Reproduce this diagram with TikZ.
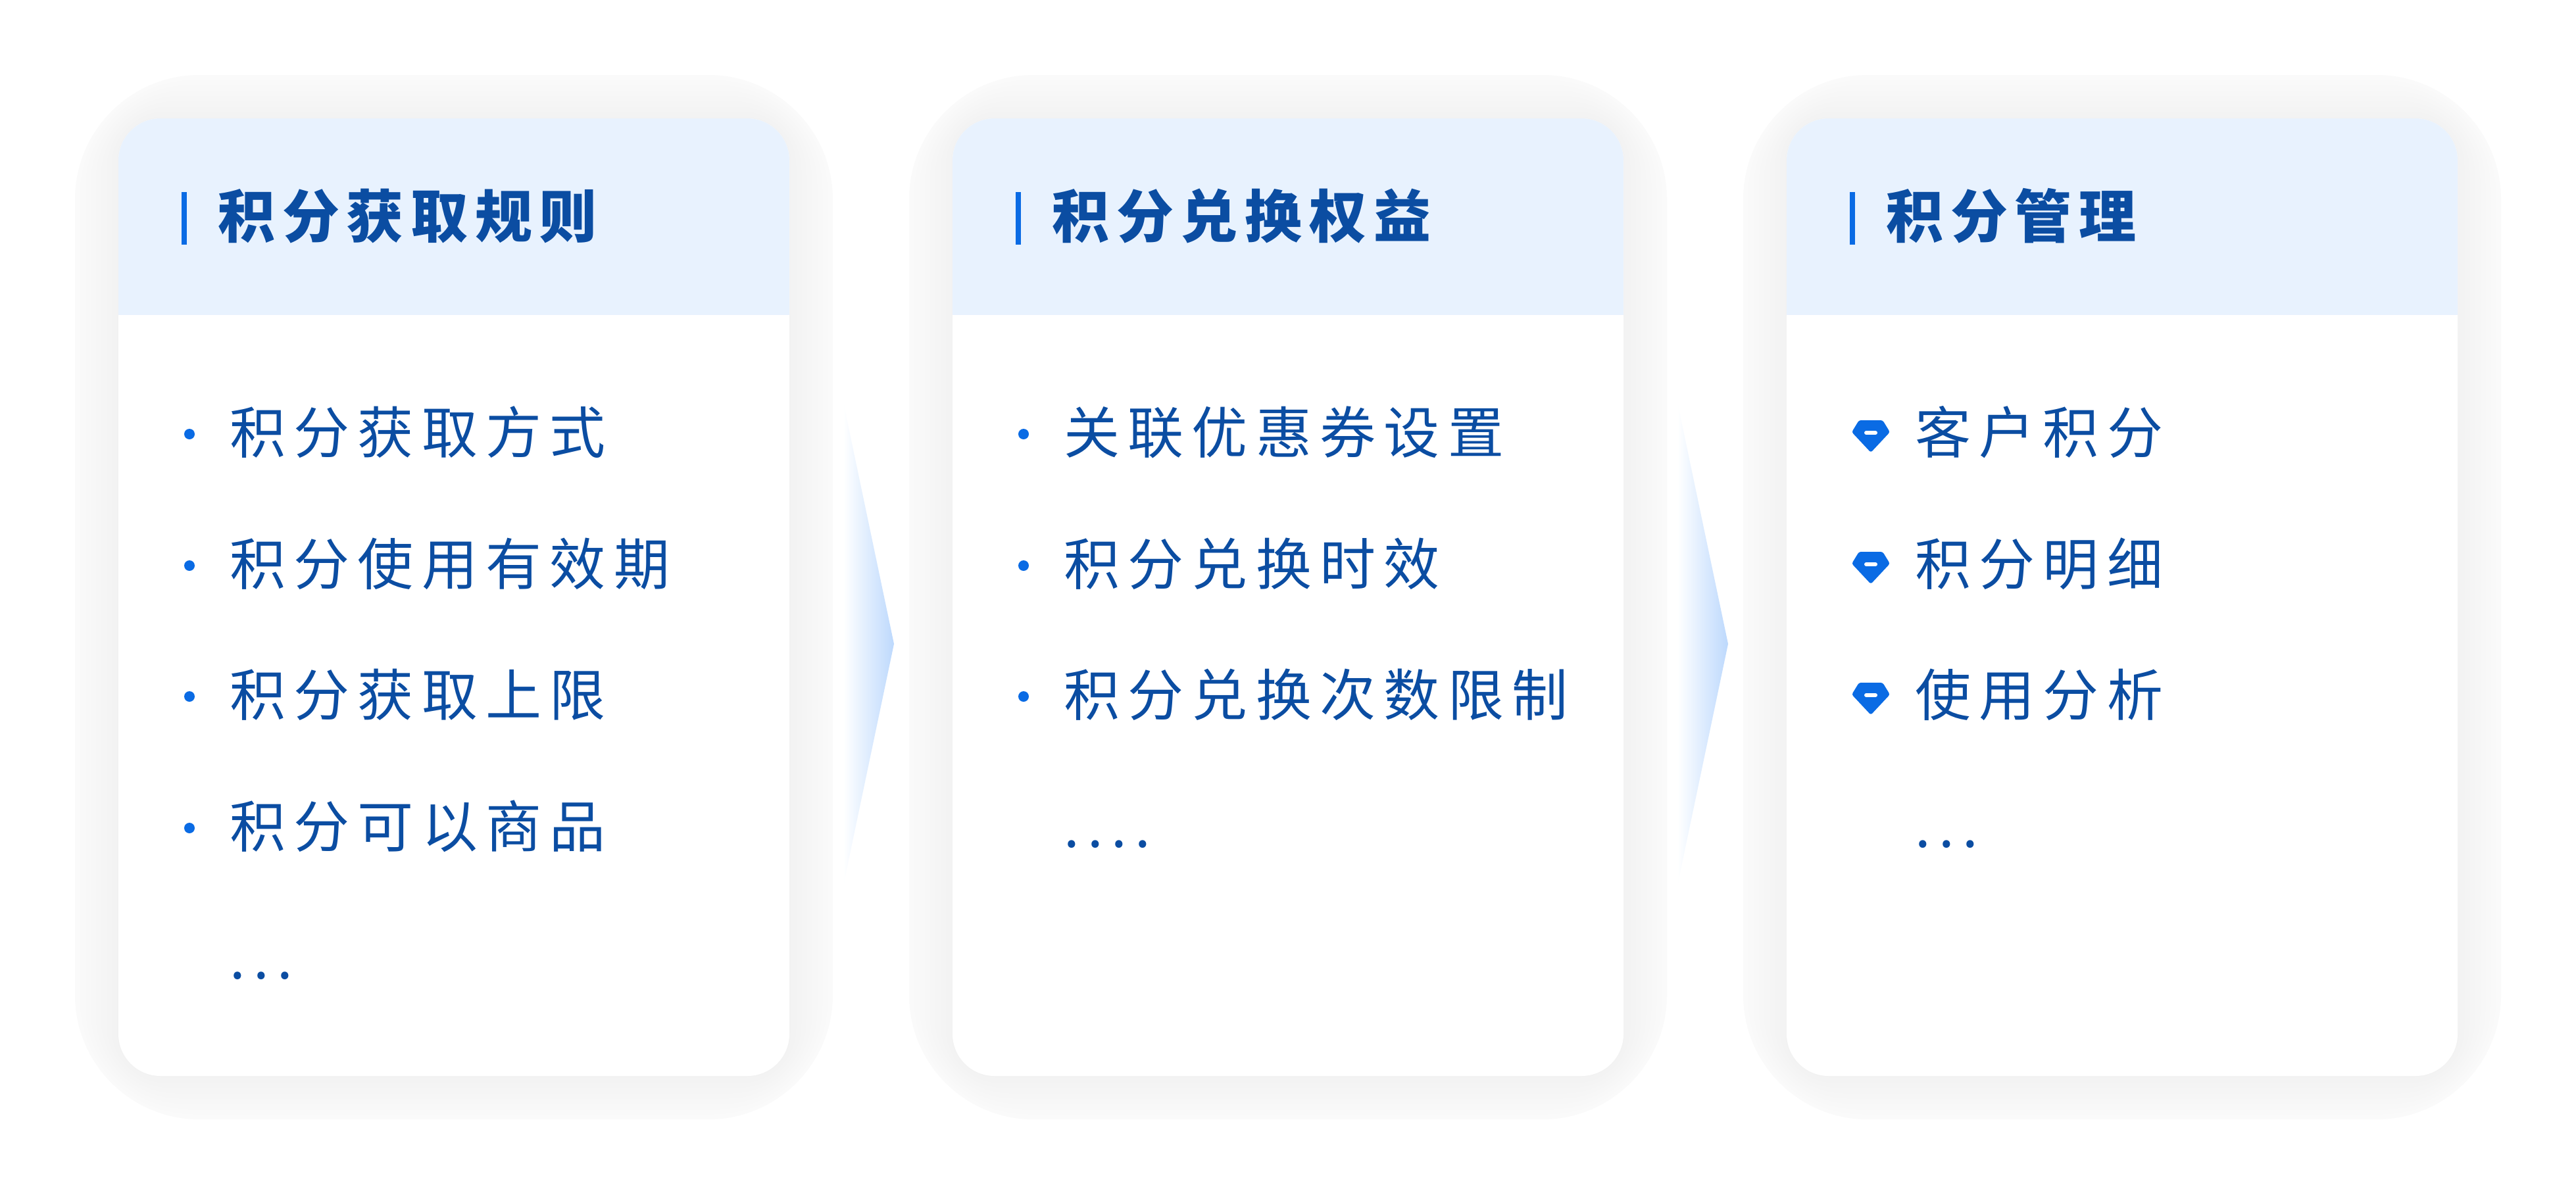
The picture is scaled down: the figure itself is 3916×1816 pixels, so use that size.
\documentclass[tikz,border=0pt]{standalone}
\usepackage{fontspec}
\newfontfamily\itemfont{Noto Sans CJK SC}[LetterSpace=14.5]
\newfontfamily\headfont{Noto Sans CJK SC}[LetterSpace=12.5]
\definecolor{txt}{HTML}{0B4DA2}
\definecolor{accent}{HTML}{0A6BE4}
\definecolor{headbg}{HTML}{E8F2FE}
\definecolor{arrowblue}{HTML}{BDD9FD}
\begin{document}
\begin{tikzpicture}[x=1pt,y=-1pt,
  itemtxt/.style={anchor=base west, inner sep=0pt, text=txt, font=\itemfont\fontsize{85}{100}\selectfont},
  headtxt/.style={anchor=base west, inner sep=0pt, text=txt, font=\headfont\bfseries\fontsize{87}{100}\selectfont},
  bulletdot/.style={fill=accent},
  headbar/.style={fill=accent},
  flowarrow/.style={left color=white, right color=arrowblue},
  gem/.style={fill=accent, rounded corners=3pt},
]
\fill[white] (0,0) rectangle (3916,1816);
\useasboundingbox (0,0) rectangle (3916,1816);

% cards with soft shadows
\foreach \cx in {180,1448,2716}{
  \foreach \i in {0,...,16}{
    \pgfmathsetmacro\shd{66-4*\i}
    \pgfmathsetmacro\shr{64+1.9*\shd}
    \pgfmathsetmacro\shp{1.8+0.2*\i}
    \fill[black!\shp, rounded corners=\shr pt] (\cx-\shd,180-\shd) rectangle (\cx+1020+\shd,1636+\shd);
  }
  \fill[white, rounded corners=64pt] (\cx,180) rectangle (\cx+1020,1636);
  \begin{scope}
    \clip[rounded corners=64pt] (\cx,180) rectangle (\cx+1020,1636);
    \fill[headbg] (\cx,170) rectangle (\cx+1020,479);
  \end{scope}
  \fill[headbar] (\cx+96,292) rectangle (\cx+104,372);
}

% arrows between cards
\shade[flowarrow] (1282,612) -- (1359,979) -- (1282,1346) -- cycle;
\shade[flowarrow] (2550,612) -- (2627,979) -- (2550,1346) -- cycle;

% headers
\node[headtxt] (h1) at (331,361) {积分获取规则};
\node[headtxt] (h2) at (1599,361) {积分兑换权益};
\node[headtxt] (h3) at (2867,361) {积分管理};

% card 1 items
\foreach \ry in {657,857,1056,1256}{
  \fill[bulletdot] (288,\ry+3) circle (8);
}
\node[itemtxt] (a1) at (349,689) {积分获取方式};
\node[itemtxt] (a2) at (349,889) {积分使用有效期};
\node[itemtxt] (a3) at (349,1088) {积分获取上限};
\node[itemtxt] (a4) at (349,1288) {积分可以商品};
\node[itemtxt] (a5) at (349,1488) {...};

% card 2 items
\foreach \ry in {657,857,1056}{
  \fill[bulletdot] (1556,\ry+3) circle (8);
}
\node[itemtxt] (b1) at (1617,689) {关联优惠券设置};
\node[itemtxt] (b2) at (1617,889) {积分兑换时效};
\node[itemtxt] (b3) at (1617,1088) {积分兑换次数限制};
\node[itemtxt] (b4) at (1617,1288) {....};

% card 3 items
\foreach \ry in {657,857,1056}{
  \fill[gem] (2826,\ry-18) -- (2862,\ry-18) -- (2873,\ry) -- (2844,\ry+31) -- (2815,\ry) -- cycle;
  \draw[white, line width=6pt, line cap=round] (2837,\ry+1) -- (2851,\ry+1);
}
\node[itemtxt] (c1) at (2911,689) {客户积分};
\node[itemtxt] (c2) at (2911,889) {积分明细};
\node[itemtxt] (c3) at (2911,1088) {使用分析};
\node[itemtxt] (c4) at (2911,1288) {...};
\end{tikzpicture}
\end{document}
